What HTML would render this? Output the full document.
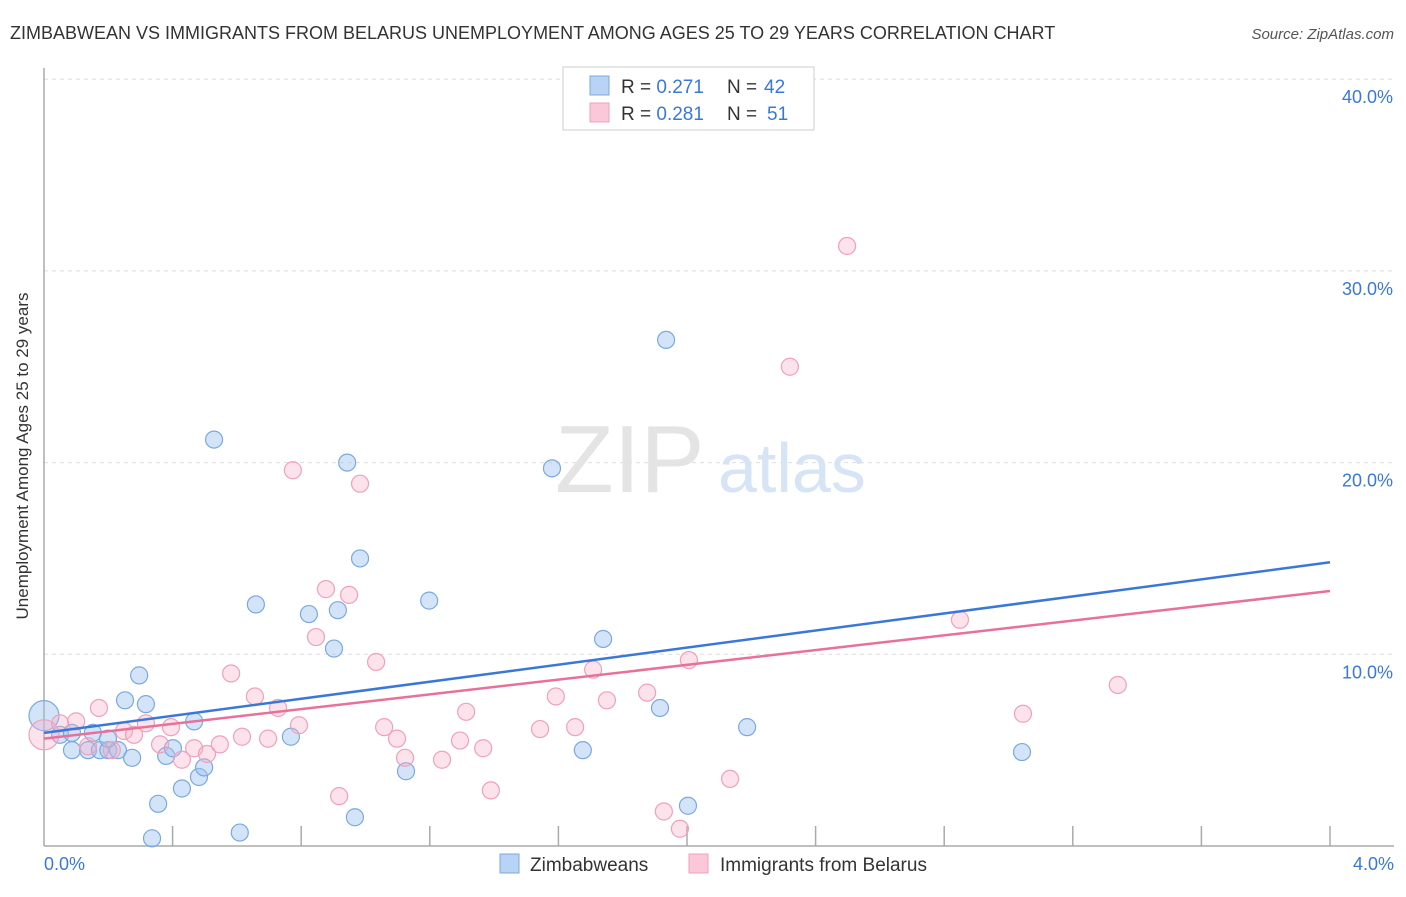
<!DOCTYPE html>
<html><head><meta charset="utf-8"><style>
body{margin:0;background:#fff;font-family:"Liberation Sans",sans-serif;}
svg text{font-family:"Liberation Sans",sans-serif;}
</style></head><body>
<svg width="1406" height="892" xmlns="http://www.w3.org/2000/svg">
<text x="10" y="39" font-size="18" fill="#333">ZIMBABWEAN VS IMMIGRANTS FROM BELARUS UNEMPLOYMENT AMONG AGES 25 TO 29 YEARS CORRELATION CHART</text>
<text x="1394" y="39" font-size="15" fill="#555" font-style="italic" text-anchor="end">Source: ZipAtlas.com</text>
<g id="grid"></g>
<text x="555" y="492" font-size="96" fill="#e4e4e4" font-family="Liberation Serif">ZIP</text>
<text x="718" y="492" font-size="70" fill="#d6e4f5">atlas</text>
<line x1="44" y1="68" x2="44" y2="846" stroke="#aaa" stroke-width="1.5"/>
<line x1="44" y1="846" x2="1394" y2="846" stroke="#aaa" stroke-width="1.5"/>
<g id="ticks"></g>
<g id="pts"></g>
<g id="lines"></g>
<text x="28" y="456" font-size="17" fill="#333" text-anchor="middle" transform="rotate(-90 28 456)">Unemployment Among Ages 25 to 29 years</text>
<text x="44" y="870" font-size="18" fill="#3a78d8">0.0%</text>
<text x="1394" y="870" font-size="18" fill="#3a78d8" text-anchor="end">4.0%</text>
<g>
<rect x="563" y="67" width="251" height="63" fill="#fff" stroke="#ccc"/>
<rect x="590" y="76" width="19" height="19" fill="#b8d3f5" stroke="#7aa9e0"/>
<rect x="590" y="103" width="19" height="19" fill="#fac8d8" stroke="#f0a0bb"/>
<text x="621" y="93" font-size="19" fill="#333">R = <tspan fill="#3a78d8">0.271</tspan></text>
<text x="727" y="93" font-size="19" fill="#333">N = <tspan fill="#3a78d8" x="764">42</tspan></text>
<text x="621" y="120" font-size="19" fill="#333">R = <tspan fill="#3a78d8">0.281</tspan></text>
<text x="727" y="120" font-size="19" fill="#333">N = <tspan fill="#3a78d8" x="767">51</tspan></text>
</g>
<g>
<rect x="500" y="854" width="19" height="19" fill="#b8d3f5" stroke="#7aa9e0"/>
<text x="530" y="871" font-size="19" fill="#333">Zimbabweans</text>
<rect x="689" y="854" width="19" height="19" fill="#fac8d8" stroke="#f0a0bb"/>
<text x="720" y="871" font-size="19" fill="#333">Immigrants from Belarus</text>
</g>
</svg>
<script>
const yTicks=[10,20,30,40];
const yTickLabels=["10.0%","20.0%","30.0%","40.0%"];
const xTicks=[0.4,0.8,1.2,1.6,2.0,2.4,2.8,3.2,3.6,4.0];
const blueX=[0,0.05,0.087,0.087,0.137,0.174,0.2,0.23,0.152,0.199,0.252,0.296,0.317,0.274,0.355,0.336,0.38,0.401,0.429,0.467,0.482,0.498,0.529,0.609,0.659,0.768,0.824,0.902,0.914,0.943,0.967,0.983,1.126,1.198,1.58,1.676,1.739,1.916,1.935,2.003,2.187,3.042];
const blueY=[6.8,5.8,5.9,5.0,5.0,5.0,5.0,5.0,5.9,5.6,7.6,8.9,7.4,4.6,2.2,0.4,4.7,5.1,3.0,6.5,3.6,4.1,21.2,0.7,12.6,5.7,12.1,10.3,12.3,20.0,1.5,15.0,3.9,12.8,19.7,5.0,10.8,7.2,26.4,2.1,6.2,4.9];
const pinkX=[0,0.05,0.1,0.137,0.171,0.211,0.249,0.28,0.317,0.361,0.395,0.429,0.467,0.507,0.547,0.582,0.616,0.656,0.697,0.728,0.774,0.793,0.846,0.877,0.918,0.949,0.983,1.033,1.058,1.098,1.123,1.238,1.294,1.313,1.366,1.39,1.543,1.592,1.652,1.708,1.751,1.876,1.928,1.978,2.006,2.134,2.32,2.498,2.849,3.045,3.34];
const pinkY=[5.8,6.4,6.5,5.2,7.2,5.0,6.0,5.8,6.4,5.3,6.2,4.5,5.1,4.8,5.3,9.0,5.7,7.8,5.6,7.2,19.6,6.3,10.9,13.4,2.6,13.1,18.9,9.6,6.2,5.6,4.6,4.5,5.5,7.0,5.1,2.9,6.1,7.8,6.2,9.2,7.6,8.0,1.8,0.9,9.7,3.5,25.0,31.3,11.8,6.9,8.4];
const blueFit=[5.9,14.8];
const pinkFit=[5.6,13.3];
const X=v=>44+v*321.5, Y=v=>846-v*19.17;
const NS="http://www.w3.org/2000/svg";
function mk(t,a,p){const e=document.createElementNS(NS,t);for(const k in a)e.setAttribute(k,a[k]);document.getElementById(p).appendChild(e);return e;}
yTicks.forEach((v,i)=>{
 const l=mk('line',{x1:44,x2:1394,y1:Y(v),y2:Y(v),stroke:'#ddd','stroke-dasharray':'4,4'},'grid');
 
 
 const t=mk('text',{x:1393,y:Y(v)+24,'font-size':18,fill:'#3a78d8','text-anchor':'end'},'grid');
 t.textContent=yTickLabels[i];
 
 
});
xTicks.forEach(v=>{
 const l=mk('line',{x1:X(v),x2:X(v),y1:826,y2:846,stroke:'#aaa','stroke-width':1.5},'ticks');
 
 
});
blueX.forEach((x,i)=>{
 const c=mk('circle',{cx:X(x),cy:Y(blueY[i]),r:i==0?15:8.5,fill:'rgba(160,195,240,0.45)',stroke:'#7aa9e0','stroke-width':1.2},'pts');
 
 
});
pinkX.forEach((x,i)=>{
 const c=mk('circle',{cx:X(x),cy:Y(pinkY[i]),r:i==0?15:8.5,fill:'rgba(245,175,198,0.35)',stroke:'#f0a0bb','stroke-width':1.2},'pts');
 
 
});
const bl=mk('line',{x1:X(0),y1:Y(blueFit[0]),x2:X(4),y2:Y(blueFit[1]),stroke:'#3a78d8','stroke-width':2.5},'lines');


const pl=mk('line',{x1:X(0),y1:Y(pinkFit[0]),x2:X(4),y2:Y(pinkFit[1]),stroke:'#e8709a','stroke-width':2.5},'lines');


</script>
</body></html>
